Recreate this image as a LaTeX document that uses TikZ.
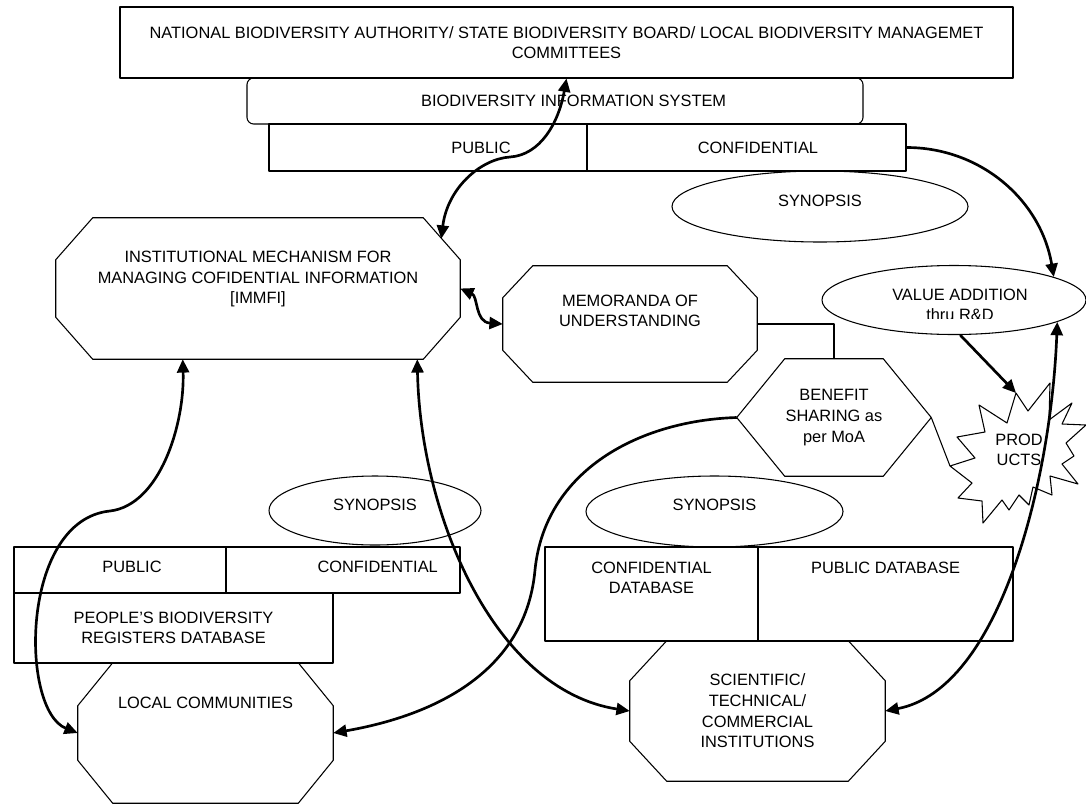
\documentclass[tikz,border=0pt]{standalone}
\usepackage{fontspec}
\setmainfont{Liberation Sans}
\usepackage{tikz}
\usetikzlibrary{calc}
\usetikzlibrary{arrows.meta}
\usetikzlibrary{shapes.geometric}
\tikzstyle{every node}=[font=\fontsize{12.3}{15.5}\selectfont]
% chamfered outline round a frame node: name, x cut, y cut
\newcommand{\octa}[3]{%
  \draw[line width=0.8pt] ($(#1.north west)+(#2,0)$) -- ($(#1.north east)+(-#2,0)$) -- ($(#1.north east)+(0,#3)$) -- ($(#1.south east)+(0,-#3)$) -- ($(#1.south east)+(-#2,0)$) -- ($(#1.south west)+(#2,0)$) -- ($(#1.south west)+(0,-#3)$) -- ($(#1.north west)+(0,#3)$) -- cycle;}

\begin{document}
\begin{tikzpicture}[line join=round,x=0.75pt,y=-0.75pt,
    box/.style={draw,line width=0.8pt,inner sep=0pt,align=center},
    oval/.style={draw,ellipse,line width=0.8pt,inner sep=0pt},
    frame/.style={inner sep=0pt,align=center},
    lbl/.style={align=center,inner sep=0pt},
    conn/.style={line width=2pt},
    >={Triangle[length=10pt,width=9pt]}]
\useasboundingbox (0,0) rectangle (1086,804);

% top blocks
\node[box,minimum width=669.75pt,minimum height=53.25pt] (nba) at (566.5,42.5) {NATIONAL BIODIVERSITY AUTHORITY/ STATE BIODIVERSITY BOARD/ LOCAL BIODIVERSITY MANAGEMET\\COMMITTEES};
\node[box,rounded corners=5pt,minimum width=462pt,minimum height=34.5pt,label={[lbl,xshift=14pt]center:BIODIVERSITY INFORMATION SYSTEM}] (bis) at (555,101) {};
\node[box,minimum width=238.5pt,minimum height=35.25pt,label={[lbl,xshift=39.75pt]center:PUBLIC}] (tpub) at (428,147.5) {};
\node[box,minimum width=239.25pt,minimum height=35.25pt,label={[lbl,xshift=8.6pt]center:CONFIDENTIAL}] (tconf) at (746.5,147.5) {};
\node[oval,minimum width=222pt,minimum height=53.25pt,label={[lbl,yshift=4.5pt]center:SYNOPSIS}] (tsyn) at (820,206.5) {};

% middle
\node[frame,minimum width=303pt,minimum height=105.75pt,label={[lbl,yshift=7.1pt]center:{INSTITUTIONAL MECHANISM FOR\\MANAGING COFIDENTIAL INFORMATION\\{[IMMFI]}}}] (immfi) at (258,288.5) {};
\octa{immfi}{37}{42}
\node[frame,minimum width=190.5pt,minimum height=87pt,label={[lbl,yshift=9.75pt]center:{MEMORANDA OF\\UNDERSTANDING}}] (mou) at (630,324) {};
\octa{mou}{30}{32}
\node[frame,minimum width=73.5pt,minimum height=87.75pt] (benefit) at (834,417.5) {BENEFIT\\SHARING as\\per MoA};
\coordinate (benwest) at ($(benefit.west)+(-48,0)$);
\coordinate (beneast) at ($(benefit.east)+(48,0)$);
\draw[line width=0.8pt] (benefit.north west) -- (benefit.north east) -- (beneast) -- (benefit.south east) -- (benefit.south west) -- (benwest) -- cycle;
\node[oval,minimum width=198pt,minimum height=51.75pt] (value) at (954,300) {};
\begin{scope}
\clip (820,260) rectangle (1086,318);
\node[lbl] (valuetext) at (960,305) {VALUE ADDITION\\thru R\&D};
\end{scope}

% products burst
\draw[line width=0.8pt] (1016,393) coordinate (prodtop) -- (1028,411) -- (1050,383) -- (1049,420) -- (1072,403) -- (1062,424) -- (1086,425) -- (1066,443) -- (1074,456) -- (1062,464) -- (1078,484) -- (1050,476) -- (1052,495) -- (1033,487) -- (1029,505) -- (1019,495) -- (1009,510) -- (1002,500) -- (983,523) -- (982,501) -- (958,498) -- (972,483) -- (950,466) coordinate (prodleft) -- (975,458) -- (957,437) -- (985,432) -- (979,405) -- (1007,423) -- cycle;
\node[lbl] (prod) at (1019,450) {PROD\\UCTS};

% lower left
\node[oval,minimum width=159pt,minimum height=51.75pt,label={[lbl,yshift=4pt]center:SYNOPSIS}] (lsyn) at (375,510.5) {};
\node[box,minimum width=159pt,minimum height=34.5pt,label={[lbl,xshift=9pt,yshift=2pt]center:PUBLIC}] (lpub) at (120,570) {};
\node[box,minimum width=175.5pt,minimum height=34.5pt,label={[lbl,xshift=26pt,yshift=2pt]center:CONFIDENTIAL}] (lconf) at (343,570) {};
\node[box,minimum width=239.25pt,minimum height=52.5pt] (people) at (173.5,628) {PEOPLE’S BIODIVERSITY\\REGISTERS DATABASE};
\node[frame,minimum width=191.25pt,minimum height=105pt,label={[lbl,yshift=22.5pt]center:LOCAL COMMUNITIES}] (local) at (205.5,733) {};
\octa{local}{35}{43}

% lower right
\node[oval,minimum width=192.75pt,minimum height=53.25pt,label={[lbl,yshift=4.9pt]center:SYNOPSIS}] (rsyn) at (714.5,511.5) {};
\node[box,minimum width=159.75pt,minimum height=70.5pt,label={[lbl,yshift=12pt]center:{CONFIDENTIAL\\DATABASE}}] (cdb) at (651.5,594) {};
\node[box,minimum width=191.25pt,minimum height=70.5pt,label={[lbl,yshift=19.5pt]center:PUBLIC DATABASE}] (pdb) at (885.5,594) {};
\node[frame,minimum width=191.25pt,minimum height=105pt] (sci) at (757.5,711) {SCIENTIFIC/\\TECHNICAL/\\COMMERCIAL\\INSTITUTIONS};
\octa{sci}{37}{40}

% connectors
\coordinate (immfitr) at ($(immfi.north east)+(-19,21)$);
\coordinate (immfibl) at ($(immfi.south west)+(127,0)$);
\coordinate (immfibr) at ($(immfi.south east)+(-43,0)$);
\draw[conn,<->] (immfitr) .. controls +(6,-50) and +(-30,2) .. (510,157) .. controls +(30,-2) and +(-8,45) .. (nba.south);
\draw[conn,->] (tconf.east) .. controls +(74,0) and +(-13,-77) .. (value.13);
\draw[conn,<->] (immfi.east) .. controls +(18,8) and +(-28,-2) .. (mou.west);
\draw[conn,<->] (immfibl) .. controls +(2,65) and +(50,-6) .. (110,511) .. controls +(-90,9) and +(-58,-23) .. (local.west);
\draw[conn,<->] (immfibr) .. controls +(3,155) and +(-136,-21) .. (sci.west);
\draw[conn,->] (benwest) .. controls +(-97,3) and +(10,-100) .. (535,570) .. controls +(-10,110) and +(87,-15) .. (local.east);
\draw[conn,<->] (sci.east) .. controls +(115,-22) and +(-6,158) .. (value.-12);
\draw[conn,->] (value.-80) -- (prodtop);
\draw[line width=0.8pt] (mou.east) -| (benefit.north);
\draw[line width=0.8pt] (beneast) -- (prodleft);
\end{tikzpicture}
\end{document}
